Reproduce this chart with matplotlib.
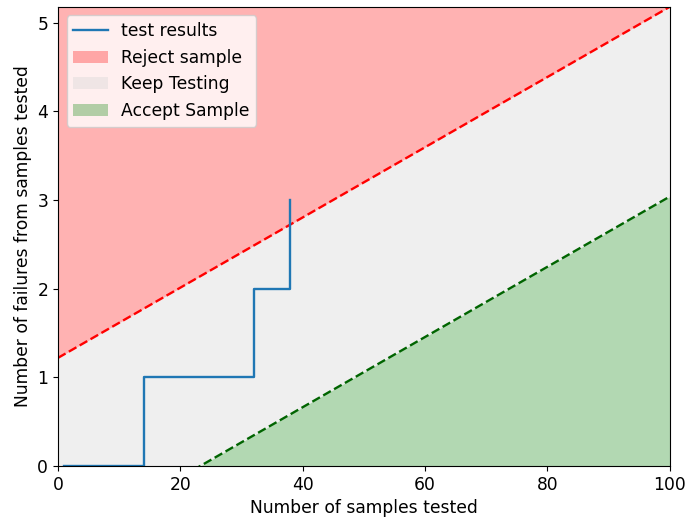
import numpy as np
import matplotlib
matplotlib.use("Agg")
import matplotlib.pyplot as plt

# sequential test boundaries
slope = 0.0396
reject_intercept = 1.22
accept_intercept = -0.92

# test results: failures after n samples
samples = [1, 14, 32, 38]
failures = [0, 1, 2, 3]

n = np.linspace(0, 100, 201)
upper = reject_intercept + slope * n
lower = accept_intercept + slope * n
ytop = upper[-1]

fs = 12.3
fig = plt.figure(figsize=(6.86, 5.19), dpi=100)
ax = fig.add_axes([0.0845, 0.102, 0.892, 0.885])

ax.fill_between(n, upper, ytop, color='red', alpha=0.3, linewidth=0, label='Reject sample')
ax.fill_between(n, np.clip(lower, 0, None), upper, color='lightgrey', alpha=0.35,
                linewidth=0, label='Keep Testing')
ax.fill_between(n, 0, np.clip(lower, 0, None), color='green', alpha=0.3, linewidth=0,
                label='Accept Sample')
ax.plot(n, upper, 'r--', linewidth=1.7)
ax.plot(n, lower, '--', color='darkgreen', linewidth=1.7)
ax.plot(samples, failures, drawstyle='steps-post', color='#1f77b4', linewidth=1.7,
        label='test results')

ax.set_xlim(0, 100)
ax.set_ylim(0, ytop)
ax.set_xlabel('Number of samples tested', fontsize=fs)
ax.set_ylabel('Number of failures from samples tested', fontsize=fs)
ax.tick_params(labelsize=fs)

h, l = ax.get_legend_handles_labels()
order = [3, 0, 1, 2]
ax.legend([h[i] for i in order], [l[i] for i in order], loc='upper left', fontsize=fs)

fig.savefig('out.png', dpi=100)
